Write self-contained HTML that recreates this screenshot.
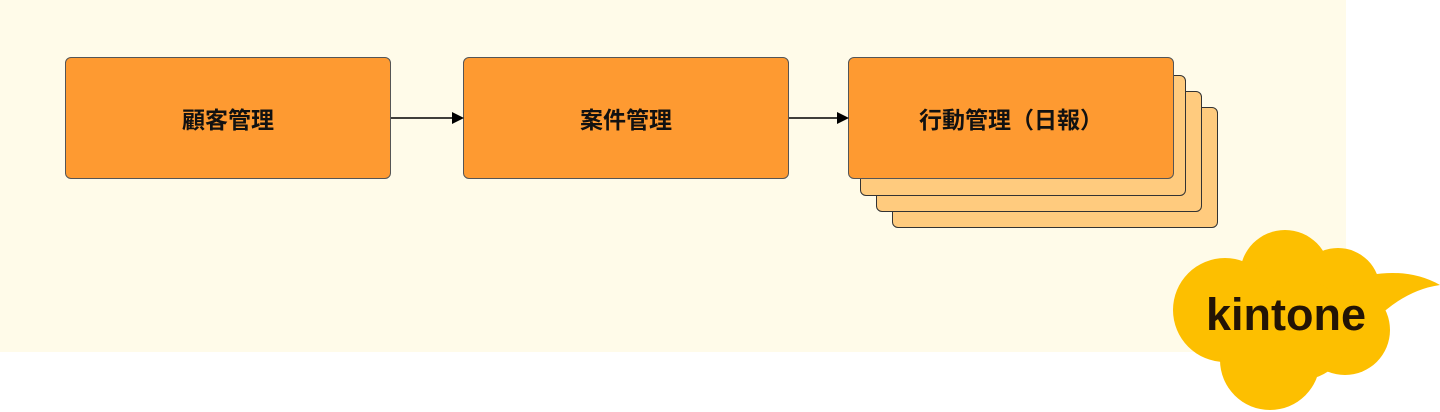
<!DOCTYPE html>
<html><head><meta charset="utf-8"><style>
body{margin:0;width:1440px;height:412px;background:#fff;position:relative;overflow:hidden;font-family:"Liberation Sans","Noto Sans CJK JP",sans-serif}
.bg{position:absolute;left:0;top:0;width:1346px;height:352px;background:#fffbe9}
.b{position:absolute;box-sizing:border-box;border:1.5px solid #555;border-radius:6px;background:#fe9a31;display:flex;align-items:center;justify-content:center;font-weight:bold;font-size:23px;color:#111}
.c{background:#ffcb7e;border-color:#333}
</style></head><body>
<div class="bg"></div>
<div class="b c" style="left:892px;top:107px;width:326px;height:121px"></div>
<div class="b c" style="left:876px;top:91px;width:326px;height:121px"></div>
<div class="b c" style="left:860px;top:75px;width:326px;height:121px"></div>
<div class="b" style="left:65px;top:57px;width:326px;height:122px">顧客管理</div>
<div class="b" style="left:463px;top:57px;width:326px;height:122px">案件管理</div>
<div class="b" style="left:848px;top:57px;width:326px;height:122px">行動管理（日報）</div>
<svg width="1440" height="412" style="position:absolute;left:0;top:0">
<line x1="391" y1="118" x2="455" y2="118" stroke="#000" stroke-width="1.5"/>
<polygon points="464,118 452,112 452,124" fill="#000"/>
<line x1="789" y1="118" x2="840" y2="118" stroke="#000" stroke-width="1.5"/>
<polygon points="849,118 837,112 837,124" fill="#000"/>
<g fill="#fdbf00">
<circle cx="1285" cy="275" r="45"/>
<circle cx="1338" cy="290" r="42"/>
<circle cx="1225" cy="310" r="52"/>
<circle cx="1345" cy="330" r="45"/>
<circle cx="1270" cy="360" r="50"/>
<circle cx="1300" cy="330" r="50"/>
<path d="M1370,275 Q1410,268 1440,285 Q1405,290 1375,320 Z"/>
</g>
<text x="1286" y="330" text-anchor="middle" font-family="Liberation Sans, sans-serif" font-weight="bold" font-size="45" fill="#231405">kintone</text>
</svg>
</body></html>
